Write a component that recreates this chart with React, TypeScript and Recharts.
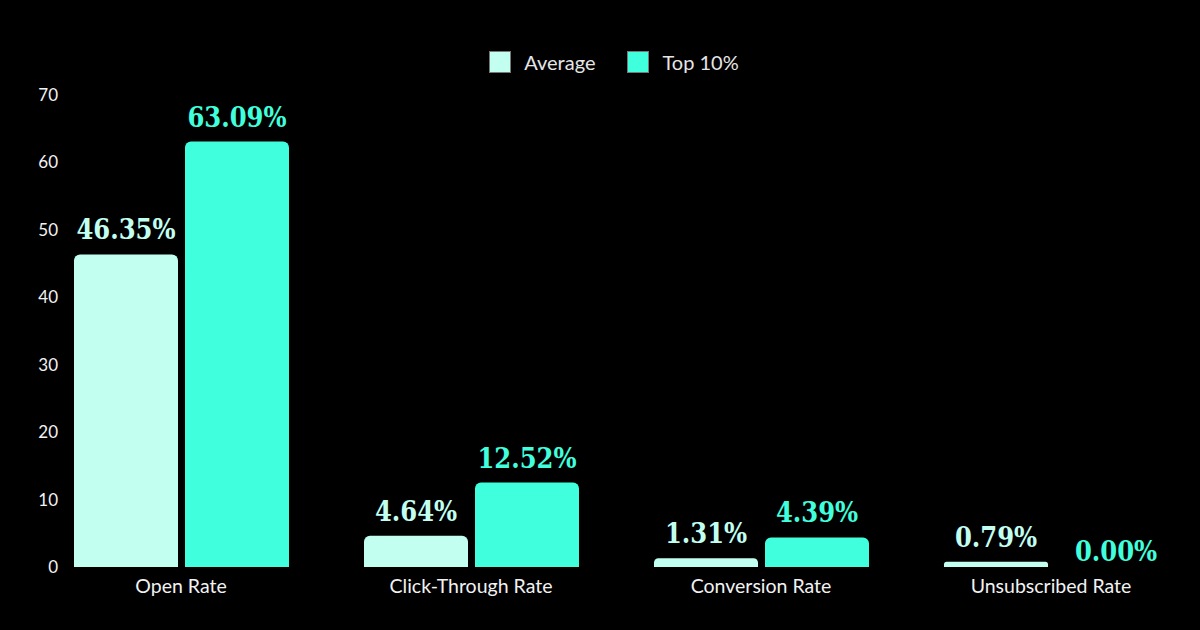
import React from "react";
import { Bar, BarChart, Cell, LabelList, Legend, XAxis, YAxis } from "recharts";

const categories = ["Open Rate", "Click-Through Rate", "Conversion Rate", "Unsubscribed Rate"];
const averageValues = [46.35, 4.64, 1.31, 0.79];
const top10Values = [63.09, 12.52, 4.39, 0.0];
const yTicks = [0, 10, 20, 30, 40, 50, 60, 70];

const AVG_COLOR = "#C2FFF0";
const TOP_COLOR = "#40FFDC";

const chartData = categories.map((name, i) => ({
  name,
  Average: averageValues[i],
  "Top 10%": top10Values[i],
}));

const LegendContent = () => {
  const items = [
    { label: "Average", color: AVG_COLOR },
    { label: "Top 10%", color: TOP_COLOR },
  ];
  return (
    <div style={{ display: "flex", justifyContent: "center", gap: 32, position: "relative", left: 14 }}>
      {items.map(item => (
        <div key={item.label} style={{ display: "flex", alignItems: "center" }}>
          <span
            style={{
              display: "inline-block",
              width: 22,
              height: 22,
              background: item.color,
              border: "1px solid #777",
              boxSizing: "border-box",
              marginRight: 13,
            }}
          />
          <span style={{ color: "#e6e6e6", fontFamily: "Lato", fontSize: 20 }}>{item.label}</span>
        </div>
      ))}
    </div>
  );
};

// value label above each bar; zero bars sit a bit lower/right like the original
const makeLabel = (color: string) => (props: any) => {
  const { x, y, width, value } = props;
  const v = Number(value);
  const gap = v === 0 ? 5 : 15;
  const shift = v === 0 ? 9 : 0;
  return (
    <text
      x={Number(x) + Number(width) / 2 + shift}
      y={Number(y) - gap}
      textAnchor="middle"
      fill={color}
      fontFamily="'DejaVu Serif Condensed', 'DejaVu Serif'"
      fontWeight="bold"
      fontSize={27}
    >
      {`${v.toFixed(2)}%`}
    </text>
  );
};

const App = () => {
  return (
    <div style={{ position: "absolute", left: 0, top: 0, width: 1200, height: 630, background: "#000" }}>
      <BarChart
        width={1200}
        height={630}
        data={chartData}
        margin={{ top: 71, right: 4, left: 0, bottom: 0 }}
        barCategoryGap={38}
        barGap={7}
      >
        <Legend
          verticalAlign="top"
          content={<LegendContent />}
          wrapperStyle={{ top: 50, left: 0, width: 1200 }}
        />
        <XAxis
          dataKey="name"
          axisLine={false}
          tickLine={false}
          tickSize={0}
          tickMargin={12}
          height={63}
          interval={0}
          tick={{ fill: "#f2f2f2", fontSize: 19.5, fontFamily: "Lato" }}
        />
        <YAxis
          width={36}
          domain={[0, 70]}
          ticks={yTicks}
          axisLine={false}
          tickLine={false}
          tickSize={0}
          tickMargin={0}
          tick={{ fill: "#f2f2f2", fontSize: 17, fontFamily: "Lato", dx: 22 }}
        />
        <Bar dataKey="Average" fill={AVG_COLOR} radius={[6, 6, 0, 0]} isAnimationActive={false}>
          <LabelList dataKey="Average" content={makeLabel(AVG_COLOR)} />
        </Bar>
        <Bar dataKey="Top 10%" fill={TOP_COLOR} radius={[6, 6, 0, 0]} minPointSize={1} isAnimationActive={false}>
          {top10Values.map((v, i) => (
            <Cell key={i} fill={v === 0 ? "transparent" : TOP_COLOR} />
          ))}
          <LabelList dataKey="Top 10%" content={makeLabel(TOP_COLOR)} />
        </Bar>
      </BarChart>
    </div>
  );
};

export default App;
